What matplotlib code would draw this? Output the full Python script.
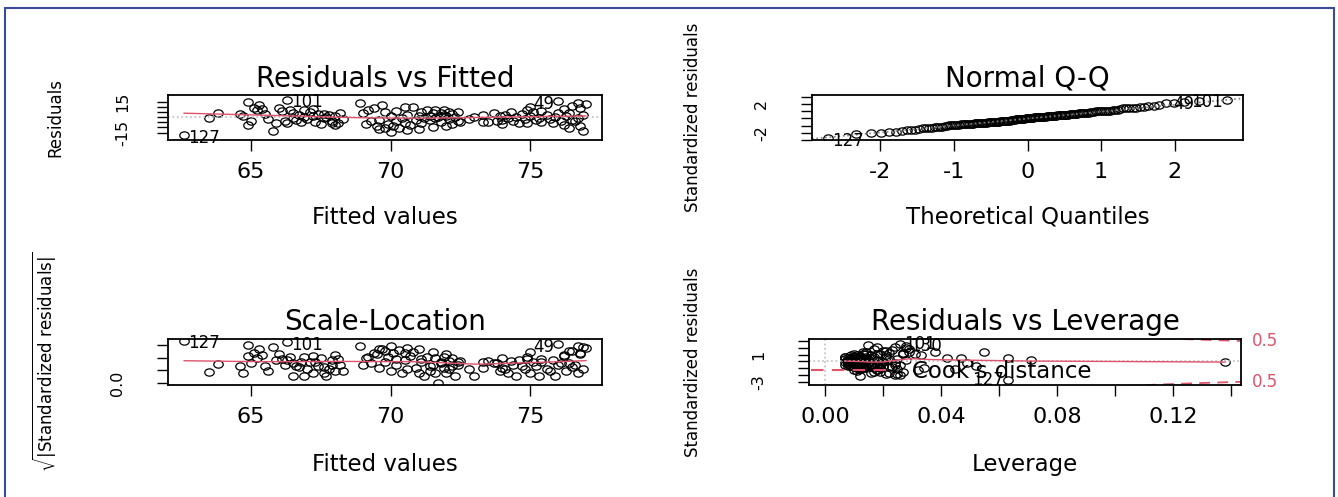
import numpy as np
import matplotlib
matplotlib.use('Agg')
import matplotlib.pyplot as plt
import matplotlib.transforms as mtransforms
from matplotlib.path import Path
from matplotlib.patches import Rectangle
from matplotlib.lines import Line2D
from statistics import NormalDist

fitted = [
    63.5, 63.8, 64.6, 64.9, 65.1, 65.2, 65.3, 65.4, 65.6, 65.8,
    65.9, 65.5, 64.7, 66.0, 65.0, 66.1, 66.2, 66.3, 66.4, 66.5,
    66.6, 66.7, 66.8, 66.9, 67.0, 67.1, 67.2, 67.3, 67.4, 67.5,
    67.6, 67.7, 67.8, 67.9, 68.0, 68.1, 68.2, 67.2, 66.5, 67.9,
    68.3, 66.9, 67.6, 68.0, 68.9, 69.0, 69.1, 69.2, 76.0, 69.3,
    69.5, 69.6, 69.7, 69.8, 69.8, 69.9, 70.0, 69.4, 69.6, 70.1,
    70.2, 70.2, 70.3, 70.4, 70.5, 70.5, 70.6, 70.7, 70.8, 70.9,
    71.0, 71.1, 71.1, 71.2, 71.3, 71.4, 71.4, 71.5, 71.6, 71.6,
    71.7, 71.8, 71.8, 71.9, 71.9, 72.0, 72.0, 72.1, 72.1, 72.2,
    72.2, 72.3, 72.4, 72.4, 71.0, 70.6, 71.5, 72.5, 70.0, 72.8,
    66.3, 73.0, 73.3, 73.3, 73.5, 73.7, 73.8, 73.9, 74.0, 74.1,
    74.2, 74.3, 74.4, 74.5, 74.6, 74.7, 74.8, 74.9, 74.9, 75.0,
    75.1, 75.2, 75.3, 75.4, 75.4, 74.0, 62.6, 75.0, 75.6, 64.9,
    75.7, 75.8, 75.9, 76.0, 76.1, 76.2, 76.2, 76.3, 76.4, 76.4,
    76.5, 76.5, 76.6, 76.7, 76.7, 76.8, 76.9, 76.9, 77.0, 76.8,
]
residuals = [
    -1.2, 3.5, 2.8, -7.5, 9.0, 6.5, 11.5, 7.8, -1.5, -13.0,
    -5.5, 3.0, 1.0, 8.5, -4.0, 6.0, -3.5, -5.5, 7.0, 4.0,
    -3.0, 2.5, -4.5, 0.5, -2.0, 4.5, 1.0, -4.5, 3.0, -6.5,
    -1.0, 0.5, 2.0, -5.5, 1.5, -6.0, 3.5, 7.5, -0.5, -3.5,
    -1.5, 6.8, 2.8, -8.0, 14.0, 3.5, -6.5, 7.0, 15.5, -4.0,
    -8.5, -2.5, 11.5, -10.5, 4.5, -7.0, 1.5, 9.0, -12.0, -9.0,
    -3.5, 6.0, -11.0, -1.0, 9.5, -5.5, 2.0, -7.5, 10.0, -2.5,
    1.0, -6.0, 4.5, -0.5, 7.0, -3.0, 1.5, 3.5, -1.0, 6.5,
    0.0, 4.0, -4.5, 2.5, 7.0, -8.5, 1.0, 5.0, -2.0, 3.0,
    -6.5, 0.5, 4.5, -3.5, -11.5, -12.5, -10.0, -5.0, -14.0, -2.0,
    17.0, 0.5, 2.5, -4.5, -5.0, 4.0, -4.0, 1.5, -2.5, 2.0,
    -1.0, 5.0, -3.5, 0.5, -5.5, 3.0, -2.0, 7.0, -6.0, 1.0,
    4.5, -3.0, -0.5, 6.0, -4.5, -6.5, -17.8, 9.5, 2.0, 15.0,
    -1.5, -5.5, 0.5, 3.5, -4.0, 8.0, -7.5, 1.5, -10.5, 4.0,
    10.5, -2.5, -3.5, 14.0, -1.0, 9.0, 2.0, -13.0, 12.5, -8.5,
]
leverage = [
    0.049, 0.047, 0.042, 0.045, 0.038, 0.033, 0.029, 0.027, 0.024, 0.024,
    0.022, 0.063, 0.071, 0.055, 0.052, 0.021, 0.019, 0.023, 0.018, 0.017,
    0.016, 0.025, 0.014, 0.013, 0.015, 0.012, 0.028, 0.011, 0.013, 0.019,
    0.010, 0.012, 0.011, 0.016, 0.009, 0.014, 0.010, 0.031, 0.020, 0.024,
    0.009, 0.027, 0.012, 0.018, 0.018, 0.008, 0.011, 0.013, 0.015, 0.009,
    0.010, 0.008, 0.017, 0.019, 0.007, 0.012, 0.008, 0.014, 0.021, 0.011,
    0.007, 0.009, 0.016, 0.008, 0.013, 0.010, 0.007, 0.012, 0.020, 0.008,
    0.009, 0.011, 0.007, 0.008, 0.010, 0.012, 0.008, 0.009, 0.007, 0.011,
    0.008, 0.010, 0.009, 0.012, 0.014, 0.018, 0.008, 0.010, 0.009, 0.011,
    0.013, 0.008, 0.010, 0.012, 0.022, 0.025, 0.017, 0.011, 0.012, 0.010,
    0.026, 0.009, 0.011, 0.008, 0.012, 0.010, 0.013, 0.009, 0.011, 0.014,
    0.010, 0.012, 0.016, 0.009, 0.013, 0.011, 0.015, 0.019, 0.017, 0.012,
    0.014, 0.018, 0.138, 0.016, 0.020, 0.034, 0.063, 0.021, 0.015, 0.028,
    0.017, 0.019, 0.014, 0.016, 0.020, 0.022, 0.025, 0.018, 0.027, 0.021,
    0.023, 0.019, 0.026, 0.024, 0.020, 0.029, 0.022, 0.026, 0.028, 0.032,
]
n_coef = 3
cook_levels = [0.5]
id_n = 3

RED = '#DF536B'      # R palette colour 2
GREY = '#BEBEBE'
FRAME = '#3C4A9A'

plt.rcParams['font.family'] = ['DejaVu Sans']
plt.rcParams['axes.unicode_minus'] = False   # R prints a plain hyphen

circ = Path.unit_circle()
OVAL = Path(circ.vertices * [1.3, 1.0], circ.codes)   # the picture is stretched sideways


def lowess(x, y, f=2 / 3, iters=3):
    order = np.argsort(x, kind='stable')
    x = np.asarray(x, float)[order]
    y = np.asarray(y, float)[order]
    n = len(x)
    r = int(np.ceil(f * n))
    yest = np.zeros(n)
    robust = np.ones(n)
    for _ in range(iters + 1):
        for i in range(n):
            d = np.abs(x - x[i])
            hw = max(np.sort(d)[r - 1], 1e-12)
            w = np.clip(d / hw, 0, 1)
            w = (1 - w ** 3) ** 3 * robust
            A = np.array([[w.sum(), (w * x).sum()], [(w * x).sum(), (w * x * x).sum()]])
            b = np.array([(w * y).sum(), (w * y * x).sum()])
            beta = np.linalg.lstsq(A, b, rcond=None)[0]
            yest[i] = beta[0] + beta[1] * x[i]
        res = y - yest
        s = np.median(np.abs(res))
        u = np.clip(res / (6 * s), -1, 1)
        robust = (1 - u ** 2) ** 2
    return x, yest


def ext(lo, hi, f=0.04):
    d = hi - lo
    return lo - f * d, hi + f * d


fv = np.array(fitted)
r = np.array(residuals)
h = np.array(leverage)
n = len(r)
sigma = np.sqrt(np.sum(r ** 2) / (n - n_coef))
rs = r / (sigma * np.sqrt(1 - h))
cook = rs ** 2 * h / (n_coef * (1 - h))
sqrt_abs = np.sqrt(np.abs(rs))

fig = plt.figure(figsize=(13.38, 4.97), dpi=100)
fig.patches.append(Rectangle((5 / 1338, -0.05), 1329 / 1338, 1.05 - 8 / 497,
                             transform=fig.transFigure, fill=False, ec=FRAME, lw=1.5))


def panel(rect, title, xlabel, ylabel, ylab_x, ypad):
    ax = fig.add_axes(rect)
    for sp in ax.spines.values():
        sp.set_linewidth(1.3)
    ax.tick_params(direction='out', length=8, width=1.0, labelsize=16, pad=8)
    ax.tick_params(axis='y', labelsize=11.5, labelrotation=90, pad=ypad)
    ax.set_title(title, fontsize=20, y=1.36, va='center', pad=0)
    ax.set_xlabel(xlabel, fontsize=16.5, va='center')
    ax.xaxis.set_label_coords(0.5, -1.72)
    ax.set_ylabel(ylabel, fontsize=12, va='center')
    ax.yaxis.set_label_coords(ylab_x, 0.5)
    return ax


def set_yticks(ax, ticks, shown, fmt):
    lo, hi = ax.get_ylim()
    ticks = [t for t in ticks if lo <= t <= hi]
    ax.set_yticks(ticks, [fmt % t if t in shown else '' for t in ticks])
    plt.setp(ax.get_yticklabels(), va='center')


def points(ax, x, y):
    ax.plot(x, y, ls='none', marker=OVAL, ms=6.8, mfc='none', mec='black', mew=0.9)


def label_ids(ax, x, y, ids, left=(), dy=-2):
    xmid = np.mean(ax.get_xlim())
    for i in ids:
        to_left = (x[i] > xmid) if not left else (i + 1 in left)
        ax.annotate(str(i + 1), (x[i], y[i]), xytext=(-3 if to_left else 3, dy),
                    textcoords='offset points', ha='right' if to_left else 'left',
                    va='center', fontsize=12, annotation_clip=False)


# ---- Residuals vs Fitted ----
ax1 = panel([0.1256, 0.7183, 0.3244, 0.0905], 'Residuals vs Fitted', 'Fitted values',
            'Residuals', -0.26, 19)
points(ax1, fv, r)
ax1.axhline(0, color=GREY, ls=':', lw=1.2)
lx, ly = lowess(fv, r)
ax1.plot(lx, ly, color=RED, lw=1)
ax1.set_xlim(*ext(fv.min(), fv.max()))
ax1.set_ylim(*ext(*ext(r.min(), r.max(), 0.08)))
ax1.set_xticks([65, 70, 75])
set_yticks(ax1, range(-15, 20, 5), (-15, 15), '%d')
label_ids(ax1, fv, r, np.argsort(-np.abs(r))[:id_n])

# ---- Normal Q-Q ----
ax2 = panel([0.6069, 0.7183, 0.3221, 0.0905], 'Normal Q-Q', 'Theoretical Quantiles',
            'Standardized residuals', -0.276, 23)
nd = NormalDist()
order = np.argsort(rs, kind='stable')
probs = (np.arange(1, n + 1) - 0.5) / n
theo = np.empty(n)
theo[order] = [nd.inv_cdf(p) for p in probs]
points(ax2, theo, rs)
q1, q3 = np.quantile(rs, [0.25, 0.75])
x1, x3 = nd.inv_cdf(0.25), nd.inv_cdf(0.75)
ax2.axline((x1, q1), slope=(q3 - q1) / (x3 - x1), color='#7F7F7F', ls=':', lw=1.2)
ax2.set_xlim(*ext(theo.min(), theo.max()))
ylo, yhi = rs.min(), rs.max()
ax2.set_ylim(*ext(ylo, yhi + 0.075 * (yhi - ylo)))
ax2.set_xticks([-2, -1, 0, 1, 2])
set_yticks(ax2, range(-3, 4), (-2, 2), '%d')
label_ids(ax2, theo, rs, np.argsort(-np.abs(rs))[:id_n])

# ---- Scale-Location ----
ax3 = panel([0.1256, 0.2254, 0.3244, 0.0926], 'Scale-Location', 'Fitted values',
            r'$\sqrt{|\mathrm{Standardized\ residuals}|}$', -0.283, 23)
points(ax3, fv, sqrt_abs)
lx, ly = lowess(fv, sqrt_abs)
ax3.plot(lx, ly, color=RED, lw=1)
ax3.set_xlim(*ext(fv.min(), fv.max()))
ax3.set_ylim(*ext(0, sqrt_abs.max()))
ax3.set_xticks([65, 70, 75])
set_yticks(ax3, [0.0, 0.5, 1.0, 1.5], (0.0,), '%.1f')
label_ids(ax3, fv, sqrt_abs, np.argsort(-np.abs(rs))[:id_n])

# ---- Residuals vs Leverage ----
ax4 = panel([0.6046, 0.2254, 0.3229, 0.0926], 'Residuals vs Leverage', 'Leverage',
            'Standardized residuals', -0.268, 23)
points(ax4, h, rs)
ax4.axhline(0, color=GREY, ls=':', lw=1.2)
ax4.axvline(0, color=GREY, ls=':', lw=1.2)
lx, ly = lowess(h, rs)
ax4.plot(lx, ly, color=RED, lw=1)
ax4.set_xlim(*ext(0, h.max()))
ax4.set_ylim(*ext(*ext(rs.min(), rs.max(), 0.08)))
xmax = min(0.99, ax4.get_xlim()[1])
hh = np.linspace(min(h.min(), h.max() / 100), ax4.get_xlim()[1], 101)
for crit in cook_levels:
    cl = np.sqrt(crit * n_coef * (1 - hh) / hh)
    ax4.plot(hh, cl, color=RED, ls='--', dashes=(6, 4), lw=1.3)
    ax4.plot(hh, -cl, color=RED, ls='--', dashes=(6, 4), lw=1.3)
    aty = np.sqrt(crit * n_coef * (1 - xmax) / xmax)
    trans = mtransforms.blended_transform_factory(ax4.transAxes, ax4.transData)
    for yy in (-aty, aty):
        ax4.text(1 + 11 / 432, yy, '%g' % crit, transform=trans, color=RED,
                 fontsize=12, va='center', ha='left')
ax4.legend([Line2D([], [], color=RED, ls='--', dashes=(6, 4))], ["Cook's distance"],
           loc='lower left', frameon=False, fontsize=16.5, borderaxespad=0,
           borderpad=0.1, handlelength=3.6, handletextpad=0.8)
xt = np.round(np.arange(0, 0.141, 0.02), 2)
ax4.set_xticks(xt, ['%.2f' % t if round(t / 0.04, 6) % 1 == 0 else '' for t in xt])
set_yticks(ax4, range(-3, 4), (-3, 1), '%d')
label_ids(ax4, h, rs, np.argsort(-cook)[:id_n], left=(127,), dy=0)

fig.savefig('out.png', dpi=100)
